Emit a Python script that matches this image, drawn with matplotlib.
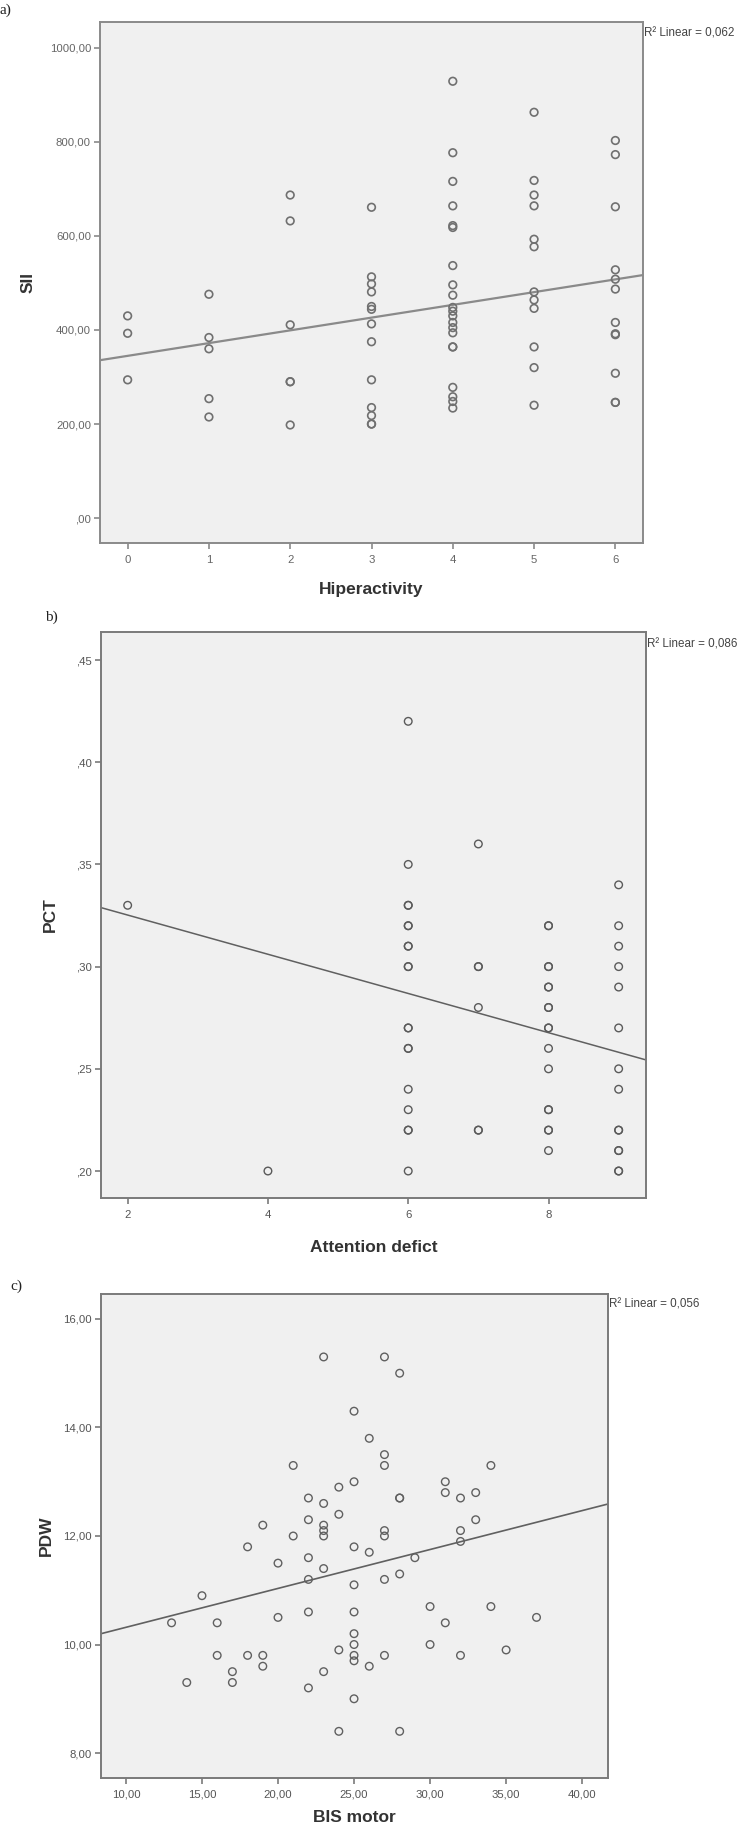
import matplotlib
matplotlib.use("Agg")
import matplotlib.pyplot as plt
import numpy as np

# ---------------- data ----------------
# Panel a: Hiperactivity vs SII
a_x0 = [430, 393, 294]
a_x1 = [476, 384, 360, 254, 215]
a_x2 = [687, 632, 411, 290, 290, 198]
a_x3 = [661, 513, 498, 481, 450, 444, 413, 375, 294, 235, 218, 200, 200]
a_x4 = [929, 777, 716, 664, 622, 618, 537, 496, 474, 448, 440, 430, 416, 405,
        394, 364, 364, 278, 258, 248, 234]
a_x5 = [863, 718, 687, 664, 593, 577, 481, 464, 446, 364, 320, 240]
a_x6 = [803, 773, 662, 528, 508, 487, 416, 392, 390, 308, 246, 246]
a_groups = [a_x0, a_x1, a_x2, a_x3, a_x4, a_x5, a_x6]
a_levels = [0, 1, 2, 3, 4, 5, 6]
a_fit = (345.0, 27.1)          # intercept, slope
a_r2 = "0,062"
a_yticks = [0, 200, 400, 600, 800, 1000]
a_yticklabels = [",00", "200,00", "400,00", "600,00", "800,00", "1000,00"]
a_xticks = [0, 1, 2, 3, 4, 5, 6]

# Panel b: Attention defict vs PCT
b_x2 = [0.33]
b_x4 = [0.20]
b_x6 = [0.42, 0.35, 0.33, 0.33, 0.32, 0.32, 0.31, 0.31, 0.30, 0.30, 0.27, 0.27,
        0.26, 0.26, 0.24, 0.23, 0.22, 0.22, 0.20]
b_x7 = [0.36, 0.30, 0.30, 0.28, 0.22, 0.22]
b_x8 = [0.32, 0.32, 0.30, 0.30, 0.29, 0.29, 0.28, 0.28, 0.27, 0.27, 0.26, 0.25,
        0.23, 0.23, 0.22, 0.22, 0.21]
b_x9 = [0.34, 0.32, 0.31, 0.30, 0.29, 0.27, 0.25, 0.24, 0.22, 0.22, 0.21, 0.21,
        0.20, 0.20]
b_groups = [b_x2, b_x4, b_x6, b_x7, b_x8, b_x9]
b_levels = [2, 4, 6, 7, 8, 9]
b_fit = (0.3444, -0.00959)
b_r2 = "0,086"
b_yticks = [0.20, 0.25, 0.30, 0.35, 0.40, 0.45]
b_yticklabels = [",20", ",25", ",30", ",35", ",40", ",45"]
b_xticks = [2, 4, 6, 8]

# Panel c: BIS motor vs PDW
c_bis = [23, 27, 28, 25, 26, 27, 27, 21, 34, 31, 25, 24, 31, 33, 32, 22, 28, 28,
         23, 24, 19, 22, 23, 33, 23, 23, 21, 27, 27, 32, 32, 18, 25, 26, 29, 22,
         20, 23, 28, 22, 27, 25, 15, 30, 34, 22, 25, 20, 37, 13, 16, 31, 25, 25,
         30, 24, 35, 16, 18, 19, 25, 27, 32, 25, 19, 26, 17, 23, 14, 17, 22, 25,
         24, 28]
c_pdw = [15.3, 15.3, 15.0, 14.3, 13.8, 13.5, 13.3, 13.3, 13.3, 13.0, 13.0, 12.9,
         12.8, 12.8, 12.7, 12.7, 12.7, 12.7, 12.6, 12.4, 12.2, 12.3, 12.2, 12.3,
         12.1, 12.0, 12.0, 12.1, 12.0, 12.1, 11.9, 11.8, 11.8, 11.7, 11.6, 11.6,
         11.5, 11.4, 11.3, 11.2, 11.2, 11.1, 10.9, 10.7, 10.7, 10.6, 10.6, 10.5,
         10.5, 10.4, 10.4, 10.4, 10.2, 10.0, 10.0, 9.9, 9.9, 9.8, 9.8, 9.8, 9.8,
         9.8, 9.8, 9.7, 9.6, 9.6, 9.5, 9.5, 9.3, 9.3, 9.2, 9.0, 8.4, 8.4]
c_fit = (9.6, 0.0717)
c_r2 = "0,056"
c_yticks = [8, 10, 12, 14, 16]
c_yticklabels = ["8,00", "10,00", "12,00", "14,00", "16,00"]
c_xticks = [10, 15, 20, 25, 30, 35, 40]
c_xticklabels = ["10,00", "15,00", "20,00", "25,00", "30,00", "35,00", "40,00"]

# ---------------- style ----------------
NARROW = ["Liberation Sans Narrow", "Liberation Sans", "DejaVu Sans"]
SERIF = ["Liberation Serif", "DejaVu Serif"]
BG = "#f0f0f0"
TICK_FS = 8.2

W, H = 746, 1825
fig = plt.figure(figsize=(W / 100, H / 100), dpi=100)


def rect(l, t, r, b):
    return [l / W, 1 - b / H, (r - l) / W, (b - t) / H]


def setup(ax, xlim, ylim, xticks, xticklabels, yticks, yticklabels,
          xlabel, ylabel, ylab_x, xlab_y, r2, frame_col, tick_col):
    ax.set_facecolor(BG)
    ax.set_xlim(*xlim)
    ax.set_ylim(*ylim)
    for s in ax.spines.values():
        s.set_color(frame_col)
        s.set_linewidth(1.4)
    ax.set_xticks(xticks)
    ax.set_xticklabels(xticklabels, family=NARROW, fontsize=TICK_FS, color=tick_col)
    ax.set_yticks(yticks)
    ax.set_yticklabels(yticklabels, family=NARROW, fontsize=TICK_FS, color=tick_col)
    ax.tick_params(axis="both", direction="out", length=4.5, width=1.2,
                   color=frame_col)
    ax.tick_params(axis="x", pad=4)
    ax.tick_params(axis="y", pad=2)
    ax.set_xlabel(xlabel, family=NARROW, fontsize=12.5, fontweight="bold",
                  color="#333333")
    ax.set_ylabel(ylabel, family=NARROW, fontsize=12.5, fontweight="bold",
                  color="#333333")
    ax.xaxis.set_label_coords(0.5, xlab_y)
    ax.yaxis.set_label_coords(ylab_x, 0.5)
    ax.text(1.002, 0.978, "R\u00b2 Linear = " + r2, transform=ax.transAxes,
            ha="left", va="center", family=NARROW, fontsize=8.4,
            color="#444444")


def fitline(ax, fit, col, lw):
    x0, x1 = ax.get_xlim()
    xs = np.array([x0, x1])
    ax.plot(xs, fit[0] + fit[1] * xs, color=col, lw=lw, zorder=2,
            solid_capstyle="butt")


# ---------------- panel a ----------------
axa = fig.add_axes(rect(100, 22, 643, 543))
setup(axa, (-0.34, 6.34), (-53, 1055), a_xticks, [str(v) for v in a_xticks],
      a_yticks, a_yticklabels, "Hiperactivity", "SII", -0.118, -0.075, a_r2,
      "#8a8a8a", "#666666")
for lev, vals in zip(a_levels, a_groups):
    axa.scatter([lev] * len(vals), vals, s=30, facecolors="none",
                edgecolors="#707070", linewidths=1.2, zorder=3)
fitline(axa, a_fit, "#8a8a8a", 1.6)
fig.text(0 / W, 1 - 10 / H, "a)", family=SERIF, fontsize=11, ha="left",
         va="center", color="#222222")

# ---------------- panel b ----------------
axb = fig.add_axes(rect(101, 632, 646, 1198))
setup(axb, (1.62, 9.39), (0.1868, 0.4637), b_xticks, [str(v) for v in b_xticks],
      b_yticks, b_yticklabels, "Attention defict", "PCT", -0.079, -0.074, b_r2,
      "#7a7a7a", "#555555")
for lev, vals in zip(b_levels, b_groups):
    axb.scatter([lev] * len(vals), vals, s=30, facecolors="none",
                edgecolors="#5a5a5a", linewidths=1.0, zorder=3)
fitline(axb, b_fit, "#606060", 1.1)
fig.text(45 / W, 1 - 617 / H, "b)", family=SERIF, fontsize=11, ha="left",
         va="center", color="#222222")

# ---------------- panel c ----------------
axc = fig.add_axes(rect(101, 1294, 608, 1778))
setup(axc, (8.36, 41.7), (7.54, 16.46), c_xticks, c_xticklabels,
      c_yticks, c_yticklabels, "BIS motor", "PDW", -0.093, -0.066, c_r2,
      "#7a7a7a", "#555555")
axc.scatter(c_bis, c_pdw, s=30, facecolors="none", edgecolors="#606060",
            linewidths=1.0, zorder=3)
fitline(axc, c_fit, "#606060", 1.2)
fig.text(10 / W, 1 - 1286 / H, "c)", family=SERIF, fontsize=11, ha="left",
         va="center", color="#222222")

fig.savefig("out.png", dpi=100, facecolor="white")
